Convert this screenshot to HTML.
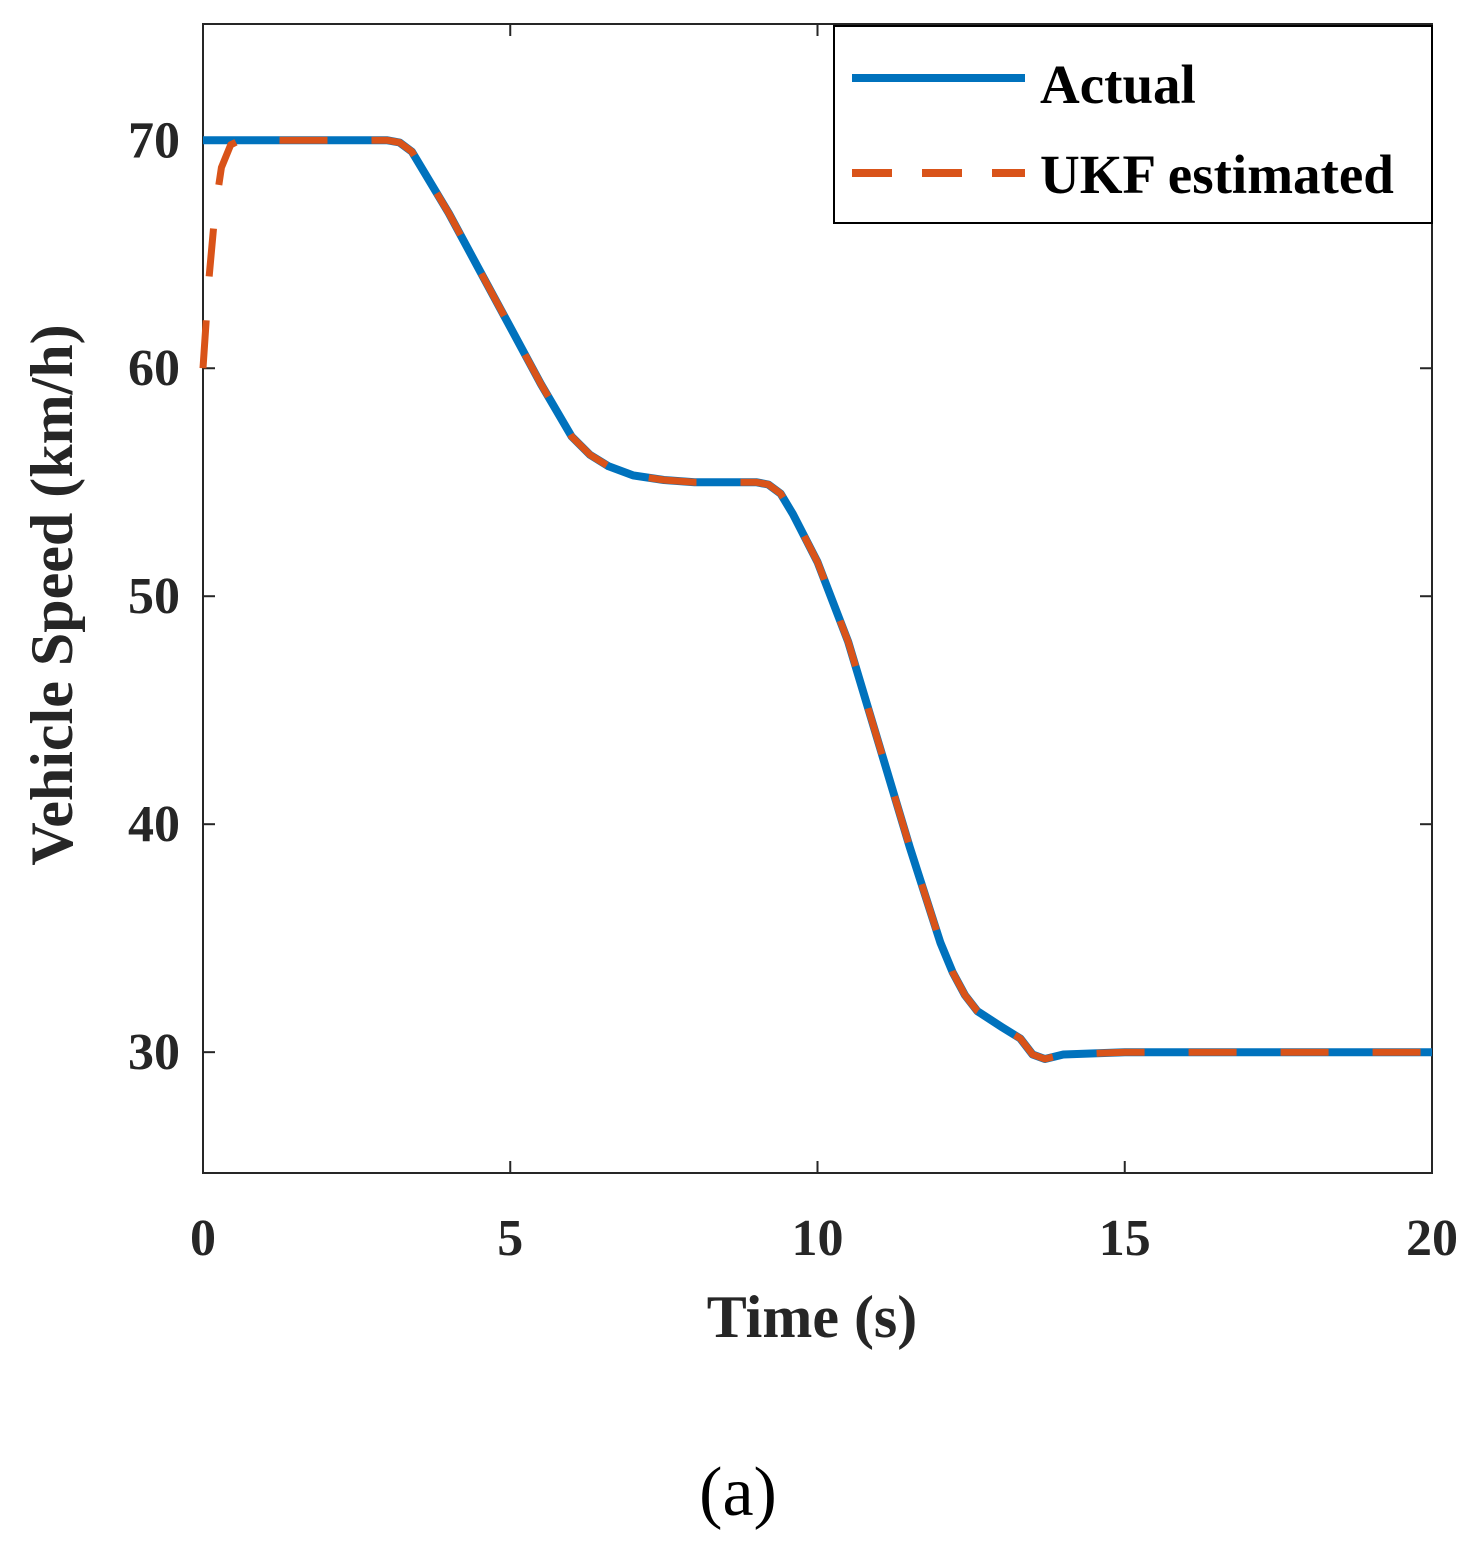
<!DOCTYPE html>
<html><head><meta charset="utf-8"><style>
body{margin:0;background:#fff}
svg text{font-family:"Liberation Serif",serif;font-weight:bold;fill:#262626}
</style></head><body>
<svg width="1474" height="1552" xmlns="http://www.w3.org/2000/svg">
<g id="plot"></g>
<text x="812" y="1337" font-size="60" text-anchor="middle">Time (s)</text>
<text transform="translate(72,595) rotate(-90)" font-size="60" text-anchor="middle">Vehicle Speed (km/h)</text>
<text x="738" y="1515" font-size="70" text-anchor="middle" style="font-weight:normal;fill:#000">(a)</text>
<g>
<rect x="834" y="26" width="598" height="197" fill="#fff" stroke="#000" stroke-width="2"/>
<line x1="852" y1="78" x2="1025" y2="78" stroke="#0072BD" stroke-width="8"/>
<text x="1040" y="103" font-size="55" style="fill:#000">Actual</text>
<line x1="852" y1="173" x2="1025" y2="173" stroke="#D95319" stroke-width="8" stroke-dasharray="40,30"/>
<text x="1040" y="193" font-size="55" style="fill:#000">UKF estimated</text>
</g>
</svg>
<script>
const actualT=[0,3,3.2,3.4,3.6,4,4.5,5,5.5,6,6.3,6.6,7,7.5,8,9,9.2,9.4,9.6,10,10.5,11,11.5,12,12.2,12.4,12.6,13,13.3,13.5,13.7,14,15,20];
const actualV=[70,70,69.9,69.5,68.6,66.8,64.3,61.8,59.3,57,56.2,55.7,55.3,55.1,55,55,54.9,54.5,53.6,51.5,48,43.5,39,34.8,33.5,32.5,31.8,31.1,30.6,29.9,29.7,29.9,30,30];
const ukfT=[0,0.1,0.2,0.3,0.45,0.6,3,3.2,3.4,3.6,4,4.5,5,5.5,6,6.3,6.6,7,7.5,8,9,9.2,9.4,9.6,10,10.5,11,11.5,12,12.2,12.4,12.6,13,13.3,13.5,13.7,14,15,20];
const ukfV=[60,64,67,68.8,69.8,70,70,69.9,69.5,68.6,66.8,64.3,61.8,59.3,57,56.2,55.7,55.3,55.1,55,55,54.9,54.5,53.6,51.5,48,43.5,39,34.8,33.5,32.5,31.8,31.1,30.6,29.9,29.7,29.9,30,30];
const xTicks=[0,5,10,15,20];
const yTicks=[30,40,50,60,70];
const X0=203,X1=1432,Y0=1173,Y1=24,xmin=0,xmax=20,ymin=24.7,ymax=75.1;
const sx=t=>X0+(t-xmin)/(xmax-xmin)*(X1-X0);
const sy=v=>Y0-(v-ymin)/(ymax-ymin)*(Y0-Y1);
const NS="http://www.w3.org/2000/svg";
const g=document.getElementById('plot');
function mk(tag,attrs){const e=document.createElementNS(NS,tag);for(const k in attrs)e.setAttribute(k,attrs[k]);g.appendChild(e);return e;}
const frame=mk('rect',{x:X0,y:Y1,width:X1-X0,height:Y0-Y1,fill:'none',stroke:'#262626','stroke-width':2});


xTicks.forEach(t=>{
 mk('line',{x1:sx(t),x2:sx(t),y1:Y0,y2:Y0-12,stroke:'#262626','stroke-width':2});
 mk('line',{x1:sx(t),x2:sx(t),y1:Y1,y2:Y1+12,stroke:'#262626','stroke-width':2});
 const tx=mk('text',{x:sx(t),y:1255,'font-size':52,'text-anchor':'middle'});tx.textContent=t;
 
 
});
yTicks.forEach(v=>{
 mk('line',{x1:X0,x2:X0+12,y1:sy(v),y2:sy(v),stroke:'#262626','stroke-width':2});
 mk('line',{x1:X1,x2:X1-12,y1:sy(v),y2:sy(v),stroke:'#262626','stroke-width':2});
 const tx=mk('text',{x:180,y:sy(v)+17,'font-size':52,'text-anchor':'end'});tx.textContent=v;
 
 
});
function path(T,V){return T.map((t,i)=>(i?'L':'M')+sx(t).toFixed(1)+','+sy(V[i]).toFixed(1)).join(' ');}
const a=mk('path',{d:path(actualT,actualV),fill:'none',stroke:'#0072BD','stroke-width':8,'stroke-linejoin':'round'});


const u=mk('path',{d:path(ukfT,ukfV),fill:'none',stroke:'#D95319','stroke-width':7,'stroke-dasharray':'48,44','stroke-linejoin':'round'});


</script>
</body></html>
